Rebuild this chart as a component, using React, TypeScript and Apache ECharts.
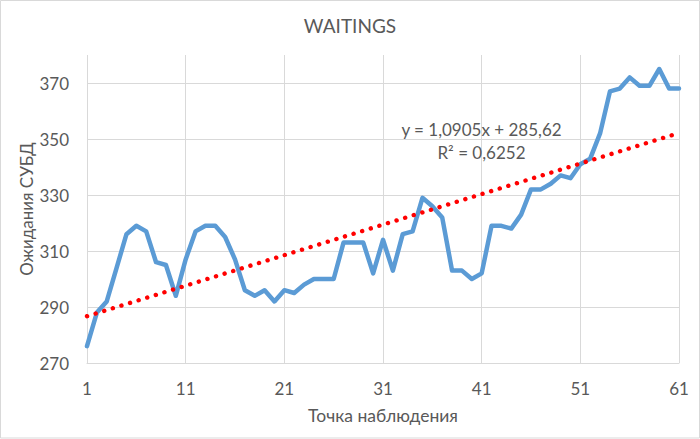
import React, { useEffect, useRef } from "react";
import * as echarts from "echarts";

const chartTitle = "WAITINGS";
const xAxisTitle = "Точка наблюдения";
const yAxisTitle = "Ожидания СУБД";

// Observation numbers 1..61
const observations = [
  1, 2, 3, 4, 5, 6, 7, 8, 9, 10,
  11, 12, 13, 14, 15, 16, 17, 18, 19, 20,
  21, 22, 23, 24, 25, 26, 27, 28, 29, 30,
  31, 32, 33, 34, 35, 36, 37, 38, 39, 40,
  41, 42, 43, 44, 45, 46, 47, 48, 49, 50,
  51, 52, 53, 54, 55, 56, 57, 58, 59, 60, 61,
];

// DBMS waitings
const waitings = [
  276, 288, 292, 304, 316, 319, 317, 306, 305, 294,
  307, 317, 319, 319, 315, 307, 296, 294, 296, 292,
  296, 295, 298, 300, 300, 300, 313, 313, 313, 302,
  314, 303, 316, 317, 329, 326, 322, 303, 303, 300,
  302, 319, 319, 318, 323, 332, 332, 334, 337, 336,
  341, 343, 352, 367, 368, 372, 369, 369, 375, 368, 368,
];

// Linear trendline shown on the chart
const trendSlope = 1.0905;
const trendIntercept = 285.62;
const trendRange = [1, 61];
const trendEquation = "y = 1,0905x + 285,62";
const trendR2 = "R² = 0,6252";

const FONT = "Lato";
const TEXT = "#595959";
const GRID = "#d9d9d9";

export default function App() {
  const ref = useRef<HTMLDivElement>(null);

  useEffect(() => {
    document.body.style.margin = "0";
    if (!ref.current) return;
    const chart = echarts.init(ref.current, null, { renderer: "svg" });

    const lineData = observations.map((x, i) => [x, waitings[i]]);
    const trendData = trendRange.map((x) => [x, trendSlope * x + trendIntercept]);

    chart.setOption({
      animation: false,
      backgroundColor: "#ffffff",
      textStyle: { fontFamily: FONT },
      title: {
        text: chartTitle,
        left: "center",
        top: 11,
        textStyle: { fontFamily: FONT, fontSize: 19, fontWeight: "normal", color: TEXT },
      },
      grid: { left: 87, right: 21, top: 55, bottom: 76 },
      xAxis: {
        type: "value",
        min: 1,
        max: 61,
        interval: 10,
        name: xAxisTitle,
        nameLocation: "middle",
        nameGap: 43,
        nameMoveOverlap: false,
        nameTextStyle: { fontFamily: FONT, fontSize: 17.5, color: TEXT },
        axisLine: { show: true, lineStyle: { color: GRID, width: 1 } },
        axisTick: { show: false },
        axisLabel: { fontFamily: FONT, fontSize: 17, color: TEXT, margin: 17 },
        splitLine: { show: true, lineStyle: { color: GRID, width: 1 } },
      },
      yAxis: {
        type: "value",
        min: 270,
        max: 380,
        interval: 20,
        name: yAxisTitle,
        nameLocation: "middle",
        nameGap: 52,
        nameMoveOverlap: false,
        nameTextStyle: { fontFamily: FONT, fontSize: 17, color: TEXT },
        axisLine: { show: false },
        axisTick: { show: false },
        axisLabel: { fontFamily: FONT, fontSize: 17, color: TEXT, margin: 18, showMaxLabel: false },
        splitLine: { show: true, showMaxLine: false, lineStyle: { color: GRID, width: 1 } },
      },
      series: [
        {
          name: "WAITINGS",
          type: "line",
          data: lineData,
          symbol: "none",
          lineStyle: { color: "#5B9BD5", width: 4.5, join: "round", cap: "round" },
          z: 2,
        },
        {
          name: "Trend",
          type: "line",
          data: trendData,
          symbol: "none",
          lineStyle: { color: "#FF0000", width: 4.4, type: [0.1, 8.9], cap: "round" },
          z: 3,
        },
      ],
      graphic: [
        {
          type: "rect",
          shape: { x: 0.5, y: 0.5, width: 699, height: 437.5 },
          style: { fill: "none", stroke: GRID, lineWidth: 1 },
          silent: true,
        },
        {
          type: "text",
          x: 481.5,
          y: 129,
          style: { text: trendEquation, fontFamily: FONT, fontSize: 17, fill: TEXT, textAlign: "center", textVerticalAlign: "middle" },
          z: 10,
        },
        {
          type: "text",
          x: 481.5,
          y: 152,
          style: { text: trendR2, fontFamily: FONT, fontSize: 17, fill: TEXT, textAlign: "center", textVerticalAlign: "middle" },
          z: 10,
        },
      ],
    });

    return () => chart.dispose();
  }, []);

  return <div ref={ref} style={{ width: 700, height: 439 }} />;
}
